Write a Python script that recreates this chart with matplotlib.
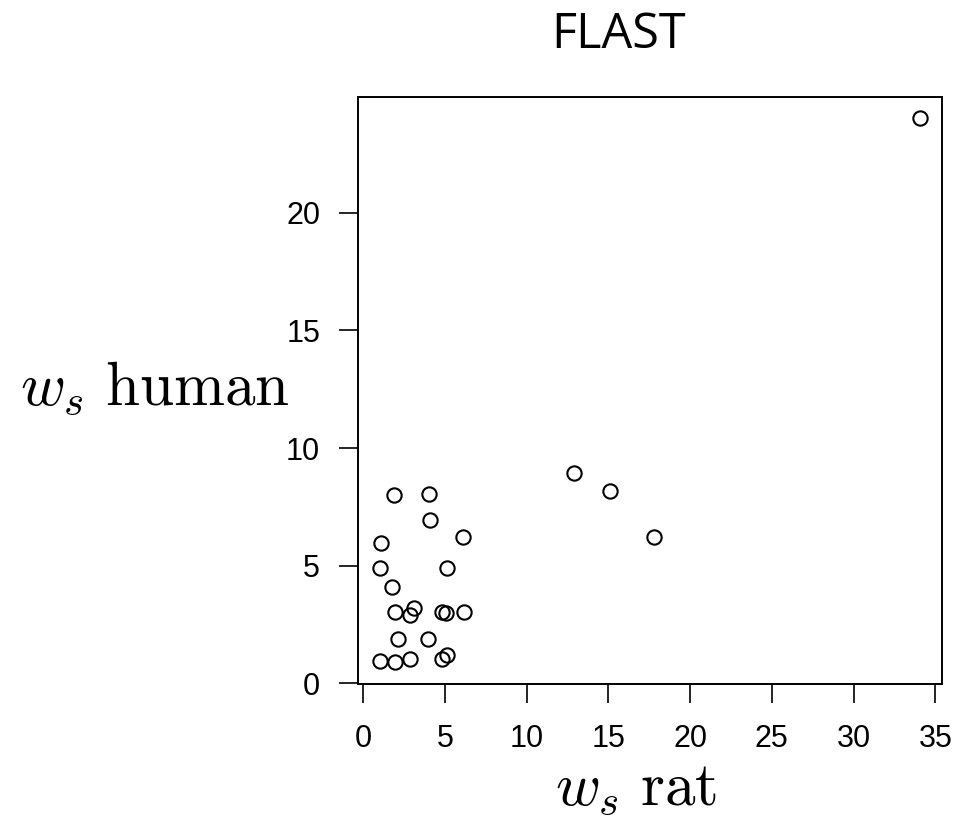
import numpy as np
import matplotlib
matplotlib.use("Agg")
import matplotlib.pyplot as plt

# FLAST: stiffness w_s, rat vs human
ws_rat = [34.07, 12.92, 15.13, 17.82, 1.87, 4.06, 4.12, 6.13, 1.10, 1.04,
          5.14, 1.79, 1.98, 3.09, 2.89, 4.83, 5.08, 6.15, 2.12, 3.95,
          2.89, 1.03, 1.98, 4.83, 5.14]
ws_human = [24.02, 8.92, 8.16, 6.20, 8.02, 8.03, 6.92, 6.20, 5.96, 4.88,
            4.88, 4.09, 3.01, 3.21, 2.92, 3.02, 3.00, 3.02, 1.86, 1.86,
            1.04, 0.94, 0.89, 1.04, 1.18]
x_ticks = [0, 5, 10, 15, 20, 25, 30, 35]
y_ticks = [0, 5, 10, 15, 20]

plt.rcParams['mathtext.fontset'] = 'cm'
plt.rcParams['font.family'] = ['Liberation Sans', 'DejaVu Sans']

fig = plt.figure(figsize=(9.57, 8.24), dpi=100)
ax = fig.add_axes([0.3744, 0.1699, 0.6097, 0.7128])

ax.plot(ws_rat, ws_human, linestyle='none', marker='o', markersize=10.3,
        markerfacecolor='none', markeredgecolor='black', markeredgewidth=1.5)
ax.margins(0.04)

ax.set_xticks(x_ticks)
ax.set_yticks(y_ticks)
ax.tick_params(axis='both', direction='out', length=13.5, width=1.2,
               labelsize=22, colors='black')
ax.tick_params(axis='x', pad=15)
ax.tick_params(axis='y', pad=14)
for side in ax.spines.values():
    side.set_linewidth(1.4)

fig.text(0.6468, 0.9417, 'FLAST', ha='center', va='baseline',
         fontsize=35, family='Open Sans')
fig.text(0.303, 0.5085, r'$w_s\ \mathrm{human}$', ha='right', va='baseline',
         fontsize=44)
fig.text(0.665, 0.023, r'$w_s\ \mathrm{rat}$', ha='center', va='baseline',
         fontsize=44)

fig.savefig('out.png', dpi=100)
